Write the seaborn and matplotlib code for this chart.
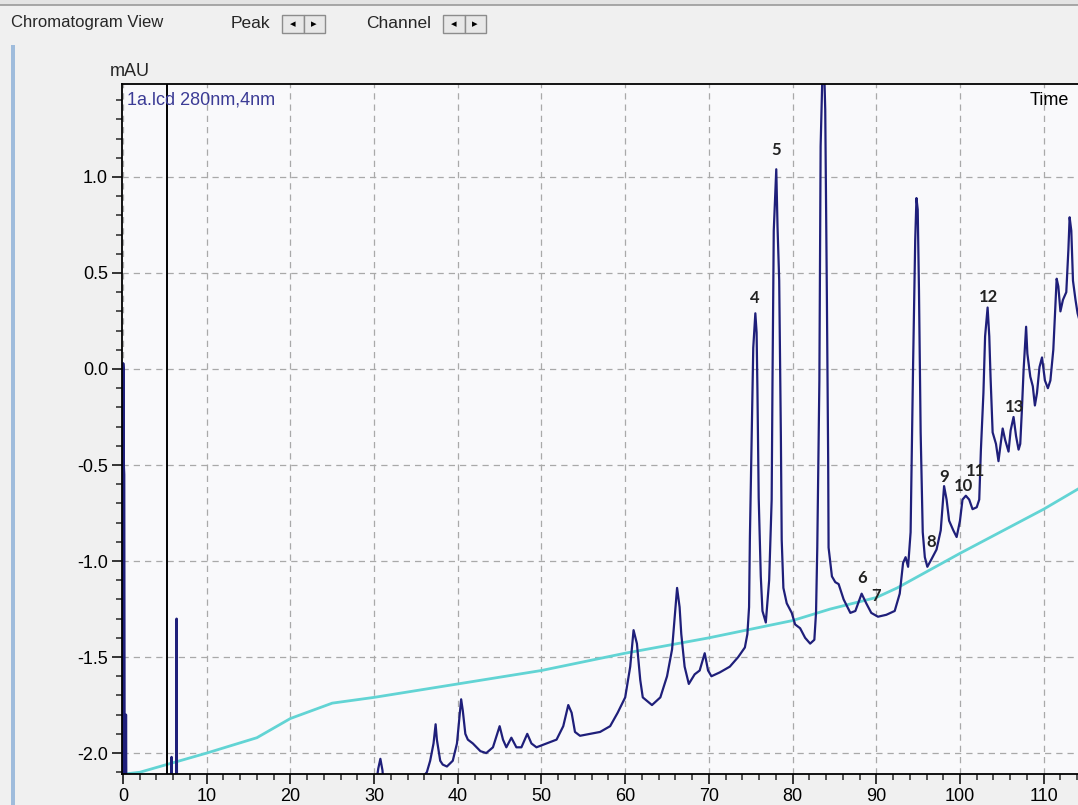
import numpy as np
import pandas as pd
import matplotlib
matplotlib.use('Agg')
import matplotlib.pyplot as plt
from matplotlib.patches import Rectangle
from matplotlib.ticker import MultipleLocator
import seaborn as sns

# chromatogram trace (time in min, signal in mAU)
trace_time = [0.0, 0.03, 0.07, 0.1, 0.15, 0.2, 0.33, 0.36, 0.4,
              5.75, 5.8, 5.85, 6.35, 6.4, 6.45,
              30.1, 30.5, 30.75, 31.0, 31.2,
              35.6, 35.9, 36.3, 36.7, 37.1, 37.35, 37.5, 37.9, 38.2, 38.7, 39.4, 39.9,
              40.4, 40.6, 40.9, 41.2, 41.8, 42.7, 43.4, 44.2, 45.0, 45.4, 45.8, 46.4,
              47.0, 47.6, 48.3, 48.8, 49.4, 50.6, 51.8, 52.6, 53.2, 53.6, 54.0, 54.6,
              55.8, 57.0, 58.2, 59.1, 60.0, 60.6, 61.0, 61.4, 61.8, 62.1, 63.2, 64.2,
              65.0, 65.6, 66.2, 66.5, 66.7, 67.1, 67.6, 68.3, 68.9, 69.5, 69.9, 70.3,
              71.3, 72.5, 73.5, 74.3, 74.6, 74.8, 74.9, 75.1, 75.3, 75.55, 75.7, 75.8,
              75.95, 76.2, 76.4, 76.8, 77.2, 77.5, 77.6, 77.75, 78.05, 78.2, 78.4, 78.6,
              78.7, 78.9, 79.3, 79.9, 80.3, 80.9, 81.5, 82.1, 82.6, 82.8, 82.95, 83.2,
              83.35, 83.6, 83.75, 83.9, 84.1, 84.25, 84.3, 84.7, 85.1, 85.5, 86.1, 86.9,
              87.5, 88.25, 88.8, 89.4, 90.2, 91.2, 92.2, 92.8, 93.2, 93.5, 93.8, 94.1,
              94.4, 94.65, 94.8, 94.95, 95.1, 95.3, 95.55, 95.8, 96.1, 96.6, 97.2, 97.7,
              98.1, 98.4, 98.7, 99.2, 99.6, 100.0, 100.3, 100.7, 101.1, 101.5, 102.0, 102.3,
              102.5, 102.8, 103.0, 103.3, 103.5, 103.65, 103.9, 104.3, 104.6, 104.8, 105.1, 105.4,
              105.8, 106.05, 106.4, 106.7, 107.0, 107.2, 107.4, 107.6, 107.9, 108.05, 108.4, 108.7,
              108.95, 109.2, 109.5, 109.8, 110.15, 110.5, 110.8, 111.15, 111.35, 111.55, 111.75, 112.0,
              112.3, 112.7, 112.95, 113.1, 113.3, 113.5, 113.8, 114.05, 114.3]
trace_mau = [-2.2, 0.03, 0.0, -0.5, -0.55, -2.2, -2.2, -1.8, -2.2,
             -2.2, -2.02, -2.2, -2.2, -1.30, -2.2,
             -2.2, -2.08, -2.03, -2.09, -2.2,
             -2.2, -2.12, -2.10, -2.04, -1.95, -1.85, -1.93, -2.04, -2.06, -2.07, -2.04, -1.95,
             -1.72, -1.78, -1.90, -1.93, -1.95, -1.99, -2.0, -1.97, -1.86, -1.93, -1.97, -1.92,
             -1.97, -1.97, -1.90, -1.95, -1.97, -1.95, -1.93, -1.86, -1.75, -1.79, -1.89, -1.91,
             -1.90, -1.89, -1.86, -1.79, -1.71, -1.55, -1.36, -1.43, -1.62, -1.71, -1.75, -1.71,
             -1.60, -1.46, -1.14, -1.24, -1.38, -1.55, -1.64, -1.59, -1.57, -1.48, -1.57, -1.60,
             -1.58, -1.55, -1.50, -1.45, -1.38, -1.24, -0.875, -0.37, 0.11, 0.29, 0.19, -0.11,
             -0.67, -1.08, -1.26, -1.32, -1.10, -0.68, -0.06, 0.72, 1.04, 0.74, 0.46, -0.35,
             -0.89, -1.14, -1.22, -1.27, -1.33, -1.35, -1.40, -1.43, -1.41, -1.27, -0.93, -0.06,
             1.16, 1.6, 1.6, 1.35, 0.36, -0.47, -0.93, -1.08, -1.11, -1.12, -1.20, -1.27,
             -1.26, -1.17, -1.22, -1.27, -1.29, -1.28, -1.26, -1.17, -1.01, -0.98, -1.03, -0.85,
             0.03, 0.67, 0.89, 0.83, 0.41, -0.33, -0.85, -0.98, -1.03, -0.99, -0.94, -0.84,
             -0.61, -0.68, -0.79, -0.84, -0.875, -0.79, -0.68, -0.66, -0.68, -0.73, -0.72, -0.68,
             -0.42, -0.125, 0.17, 0.32, 0.17, -0.04, -0.33, -0.39, -0.48, -0.41, -0.31, -0.37,
             -0.43, -0.32, -0.25, -0.35, -0.42, -0.39, -0.21, -0.005, 0.22, 0.08, -0.04, -0.09,
             -0.19, -0.125, 0.01, 0.06, -0.06, -0.10, -0.06, 0.10, 0.29, 0.47, 0.43, 0.30,
             0.36, 0.40, 0.62, 0.79, 0.72, 0.46, 0.36, 0.29, 0.25]

# gradient profile (cyan line), in the same y units
grad_time = [0, 2, 6, 10, 16, 20, 25, 30, 40, 50, 60, 70, 80, 84.5, 90, 92.5, 100, 110, 114.3]
grad_mau = [-2.11, -2.10, -2.05, -2.0, -1.92, -1.82, -1.74, -1.71, -1.64, -1.57, -1.48,
            -1.40, -1.31, -1.25, -1.19, -1.14, -0.96, -0.73, -0.62]

# peak numbers and where they sit
peak_labels = ['4', '5', '6', '7', '8', '9', '10', '11', '12', '13']
peak_label_time = [75.5, 78.0, 88.25, 90.0, 96.5, 98.1, 100.4, 101.9, 103.4, 106.5]
peak_label_mau = [0.37, 1.14, -1.09, -1.18, -0.90, -0.56, -0.61, -0.53, 0.375, -0.20]

cursor_time = 5.3

sns.set_style('ticks')
plt.rcParams['font.family'] = ['Liberation Sans', 'DejaVu Sans']

W, H = 1078, 805
fig = plt.figure(figsize=(W / 100, H / 100), dpi=100)
fig.patch.set_facecolor('#f0f0f0')

def fx(px):
    return px / W

def fy(py):
    return 1 - py / H

ax = fig.add_axes([fx(122), fy(774), fx(W - 122), (774 - 84) / H])
ax.set_facecolor('#f9f9fb')

df_trace = pd.DataFrame({'time': trace_time, 'mAU': trace_mau})
df_grad = pd.DataFrame({'time': grad_time, 'mAU': grad_mau})

sns.lineplot(data=df_grad, x='time', y='mAU', ax=ax, color='#62d4d4', linewidth=2.0,
             estimator=None, sort=False)
sns.lineplot(data=df_trace, x='time', y='mAU', ax=ax, color='#1f1f7a', linewidth=1.6,
             estimator=None, sort=False)
ax.axvline(cursor_time, color='black', linewidth=1.4)

ax.set_xlim(-0.12, 114.1)
ax.set_ylim(-2.109, 1.484)
ax.xaxis.set_major_locator(MultipleLocator(10))
ax.xaxis.set_minor_locator(MultipleLocator(2))
ax.yaxis.set_major_locator(MultipleLocator(0.5))
ax.yaxis.set_minor_locator(MultipleLocator(0.1))
ax.yaxis.set_major_formatter(matplotlib.ticker.FormatStrFormatter('%.1f'))
ax.grid(True, which='major', color='#a9a9a9', linestyle=(0, (5, 4)), linewidth=0.9)
ax.tick_params(which='major', length=7, width=1.1, direction='out', labelsize=13,
               colors='black', pad=3)
ax.tick_params(which='minor', length=4.5, width=1.1, direction='out')
ax.set_xlabel('')
ax.set_ylabel('')
for side in ['top', 'left', 'bottom']:
    ax.spines[side].set_color('black')
    ax.spines[side].set_linewidth(1.3)
ax.spines['right'].set_visible(False)

for lab, t, v in zip(peak_labels, peak_label_time, peak_label_mau):
    ax.text(t, v, lab, ha='center', va='center', fontsize=12, fontweight='bold',
            family=['Lato', 'DejaVu Sans'], color='#222222')

ax.text(0.5, 1.40, '1a.lcd 280nm,4nm', ha='left', va='center', fontsize=13,
        color='#3c3c96')
ax.text(113.0, 1.40, 'Time', ha='right', va='center', fontsize=13, color='black')

# window chrome around the chart
fig.text(fx(130), fy(72), 'mAU', ha='center', va='center', fontsize=13)
fig.add_artist(plt.Line2D([0, 1], [fy(5), fy(5)], color='#9a9a9a', linewidth=1.2))
fig.add_artist(Rectangle((0, fy(5)), 1, 5 / H, facecolor='#e4e4e4', edgecolor='none'))
fig.add_artist(Rectangle((fx(11), 0), 4 / W, fy(45), facecolor='#9fbcdc', edgecolor='none'))

fig.text(fx(11), fy(23), 'Chromatogram View', ha='left', va='center', fontsize=12)
fig.text(fx(231), fy(24), 'Peak', ha='left', va='center', fontsize=12.5)
fig.text(fx(366), fy(24), 'Channel', ha='left', va='center', fontsize=12.5)

for x0 in [282, 443]:
    for k, glyph in enumerate(['\u25c2', '\u25b8']):
        left = x0 + k * 21.5
        fig.add_artist(Rectangle((fx(left), fy(33)), 21.5 / W, 18 / H, facecolor='#e8e8e8',
                                 edgecolor='#8c8c8c', linewidth=1.0))
        fig.text(fx(left + 10.75), fy(24), glyph, ha='center', va='center', fontsize=8,
                 family='DejaVu Sans', color='black')

fig.savefig('out.png', dpi=100, facecolor=fig.get_facecolor())
